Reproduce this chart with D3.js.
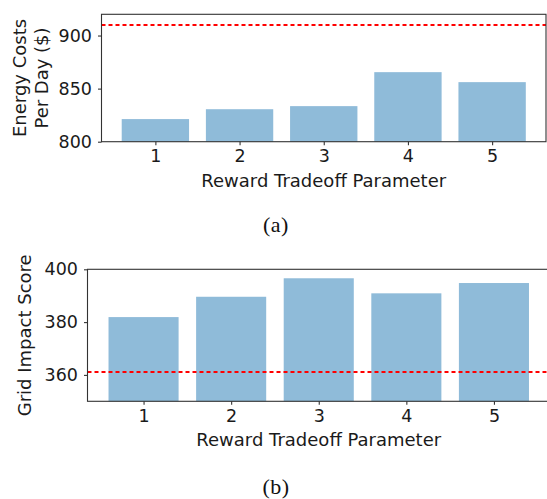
<!DOCTYPE html>
<html>
<head>
<meta charset="utf-8">
<script src="https://cdn.jsdelivr.net/npm/d3@7"></script>
<style>
  body { margin: 0; background: #fff; }
  svg { display: block; }
  .axis text { font-family: "DejaVu Sans", sans-serif; font-size: 17.5px; fill: #1a1a1a; }
  .axis path, .axis line { stroke: #333; stroke-width: 1.1; }
  .lbl { font-family: "DejaVu Sans", sans-serif; font-size: 18px; fill: #1a1a1a; }
  .cap { font-family: "Liberation Serif", "Times New Roman", serif; font-size: 22px; fill: #111; letter-spacing: 0.5px; }
</style>
</head>
<body>
<div id="chart"></div>
<script>
const params = [1, 2, 3, 4, 5];
const energyCosts = [821.3, 830.6, 833.5, 865.5, 856.1];
const energyBaseline = 910;
const gridScores = [381.9, 389.6, 396.6, 390.9, 394.8];
const gridBaseline = 361.1;
const energyTicks = [800, 850, 900];
const gridTicks = [360, 380, 400];

const W = 547, H = 499;
const svg = d3.select("#chart").append("svg").attr("width", W).attr("height", H);

const barColor = "#8fbbd9";

function panel(opt) {
  const x = d3.scaleLinear().domain([0.36, 5.64]).range([opt.left, opt.right]);
  const y = d3.scaleLinear().domain(opt.domain).range([opt.bottom, opt.top]);
  const g = svg.append("g");

  // bars
  g.selectAll(".bar")
    .data(opt.values)
    .enter()
    .append("rect")
    .attr("x", (d, i) => x(params[i] - 0.4))
    .attr("width", (d, i) => x(params[i] + 0.4) - x(params[i] - 0.4))
    .attr("y", (d) => y(d))
    .attr("height", (d) => y(opt.domain[0]) - y(d))
    .style("fill", barColor);

  // reference line
  g.append("line")
    .attr("x1", opt.left)
    .attr("x2", opt.right)
    .attr("y1", y(opt.baseline))
    .attr("y2", y(opt.baseline))
    .style("stroke", "#ff0000")
    .style("stroke-width", 2)
    .style("stroke-dasharray", "4,3");

  // frame
  g.append("rect")
    .attr("x", opt.left)
    .attr("y", opt.top)
    .attr("width", opt.right - opt.left)
    .attr("height", opt.bottom - opt.top)
    .style("fill", "none")
    .style("stroke", "#333")
    .style("stroke-width", 1.1);

  const xAxis = g.append("g")
    .attr("class", "axis")
    .attr("transform", `translate(0,${opt.bottom})`)
    .call(d3.axisBottom(x).tickValues(params).tickSize(3.5).tickPadding(4.5).tickFormat(d3.format("d")));
  xAxis.select(".domain").remove();

  const yAxis = g.append("g")
    .attr("class", "axis")
    .attr("transform", `translate(${opt.left},0)`)
    .call(d3.axisLeft(y).tickValues(opt.ticks).tickSize(3.5).tickPadding(6));
  yAxis.select(".domain").remove();

  g.append("text")
    .attr("class", "lbl")
    .attr("x", (opt.left + opt.right) / 2)
    .attr("y", opt.bottom + 45)
    .attr("text-anchor", "middle")
    .text("Reward Tradeoff Parameter");

  const cy = (opt.top + opt.bottom) / 2;
  opt.ylabel.forEach((t, i) => {
    g.append("text")
      .attr("class", "lbl")
      .attr("transform", `translate(${opt.ylabelX[i]},${cy}) rotate(-90)`)
      .attr("text-anchor", "middle")
      .attr("dy", "0.35em")
      .text(t);
  });

  svg.append("text")
    .attr("class", "cap")
    .attr("x", 276)
    .attr("y", opt.capY)
    .attr("text-anchor", "middle")
    .text(opt.caption);
}

panel({
  values: energyCosts, baseline: energyBaseline, ticks: energyTicks,
  domain: [800, 920], left: 101.5, right: 546, top: 14.3, bottom: 141.7,
  ylabel: ["Energy Costs", "Per Day ($)"], ylabelX: [20, 41.5],
  caption: "(a)", capY: 232
});

panel({
  values: gridScores, baseline: gridBaseline, ticks: gridTicks,
  domain: [350, 400], left: 87.5, right: 550, top: 269.3, bottom: 401.3,
  ylabel: ["Grid Impact Score"], ylabelX: [25],
  caption: "(b)", capY: 494
});
</script>
</body>
</html>
